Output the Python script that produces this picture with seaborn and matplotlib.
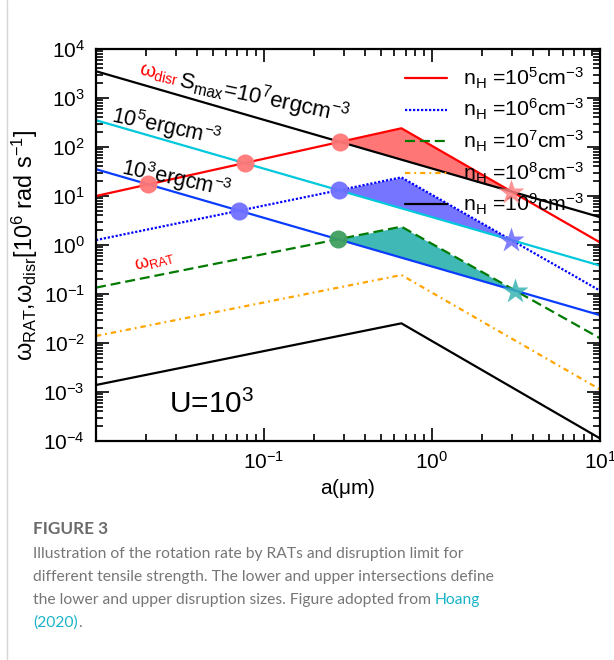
import numpy as np
import matplotlib
matplotlib.use("Agg")
import matplotlib.pyplot as plt
from matplotlib.lines import Line2D
from matplotlib.ticker import LogLocator, NullFormatter
import seaborn as sns

# ---------------- data ----------------
# grain size (um): left edge, RAT transition size, right edge
a_rat = [0.0101, 0.66, 10.0]
w_rat_n5 = [10.0, 241.0, 1.13]
w_rat_n6 = [1.26, 24.0, 0.117]
w_rat_n7 = [0.135, 2.37, 0.0125]
w_rat_n8 = [0.0139, 0.244, 0.00113]
w_rat_n9 = [0.00139, 0.0252, 0.000113]
rat_labels = [r"n$_{\rm H}$ =10$^{5}$cm$^{-3}$",
              r"n$_{\rm H}$ =10$^{6}$cm$^{-3}$",
              r"n$_{\rm H}$ =10$^{7}$cm$^{-3}$",
              r"n$_{\rm H}$ =10$^{8}$cm$^{-3}$",
              r"n$_{\rm H}$ =10$^{9}$cm$^{-3}$"]

# disruption limits for tensile strengths 1e7, 1e5, 1e3 erg cm^-3
a_disr = [0.0101, 10.0]
w_disr_s7 = [3520.0, 3.7]
w_disr_s5 = [352.0, 0.38]
w_disr_s3 = [35.2, 0.037]

x_lim = [0.0101, 10.0]
y_lim = [1e-4, 1e4]

# ---------------- style ----------------
sns.set_theme(style="ticks")
plt.rcParams.update({
    "font.family": ["Liberation Sans", "DejaVu Sans"],
    "mathtext.fontset": "custom",
    "mathtext.rm": "Liberation Sans",
    "mathtext.it": "Liberation Sans:italic",
    "mathtext.bf": "Liberation Sans:bold",
    "mathtext.sf": "Liberation Sans",
    "mathtext.default": "regular",
    "axes.edgecolor": "black",
    "text.color": "black",
    "axes.labelcolor": "black",
    "xtick.color": "black",
    "ytick.color": "black",
})

fig = plt.figure(figsize=(6.14, 6.6), dpi=100)
ax = fig.add_axes([96 / 614, 1 - 441 / 660, 504 / 614, 392 / 660])
ax.set_xscale("log")
ax.set_yscale("log")

LW = 1.6
rat_series = [
    (w_rat_n5, "#ff0000", "-"),
    (w_rat_n6, "#0000ff", (0, (1, 0.8))),
    (w_rat_n7, "#007a00", (0, (4.5, 2.2))),
    (w_rat_n8, "#ffa500", (0, (2.4, 1.8, 0.8, 1.8))),
    (w_rat_n9, "#000000", "-"),
]
disr_series = [
    (w_disr_s7, "#000000"),
    (w_disr_s5, "#00c8dc"),
    (w_disr_s3, "#0a3cff"),
]

for (w, c, ls), lab in zip(rat_series, rat_labels):
    sns.lineplot(x=a_rat, y=w, ax=ax, color=c, linestyle=ls, lw=LW,
                 label=lab, zorder=2, legend=False)
for w, c in disr_series:
    sns.lineplot(x=a_disr, y=w, ax=ax, color=c, lw=LW, zorder=2, legend=False)

# ---------------- intersections and filled disruption zones ----------------
grid = np.logspace(np.log10(x_lim[0]), np.log10(x_lim[1]), 6001)


def logcurve(xs, ys):
    return np.interp(np.log10(grid), np.log10(xs), np.log10(ys))


def crossings(d):
    idx = np.where(np.sign(d[:-1]) != np.sign(d[1:]))[0]
    res = []
    for i in idx:
        t = d[i] / (d[i] - d[i + 1])
        lx = np.log10(grid[i]) + t * (np.log10(grid[i + 1]) - np.log10(grid[i]))
        res.append(lx)
    return res


circle_cols = ["#ff7878", "#7070ff", "#3f9f60"]
fill_cols = ["#ff7676", "#7575ff", "#40b8b5"]
star_cols = ["#ff8080", "#6a6aff", "#3ab3b3"]
pairs = [(0, 0), (1, 1), (2, 2)]  # (rat index, disr index) for filled zones

# circles: lower intersections of each RAT curve with every disruption line
for ri in range(3):
    wr = rat_series[ri][0]
    lr = logcurve(a_rat, wr)
    for w, _ in disr_series:
        ld = logcurve(a_disr, w)
        for lx in crossings(lr - ld):
            if 10 ** lx < a_rat[1]:
                ly = np.interp(lx, np.log10(a_rat), np.log10(wr))
                ax.plot([10 ** lx], [10 ** ly], "o", ms=13, color=circle_cols[ri],
                        mec="none", alpha=0.95, zorder=4)

for k, (ri, di) in enumerate(pairs):
    wr = rat_series[ri][0]
    wd = disr_series[di][0]
    lr = logcurve(a_rat, wr)
    ld = logcurve(a_disr, wd)
    d = lr - ld
    ax.fill_between(grid, 10 ** ld, 10 ** lr, where=d > 0, interpolate=True,
                    color=fill_cols[k], lw=0, zorder=1.5)
    cr = [lx for lx in crossings(d) if 10 ** lx > a_rat[1]]
    for lx in cr:
        ly = np.interp(lx, np.log10(a_rat), np.log10(wr))
        ax.plot([10 ** lx], [10 ** ly], "*", ms=19, color=star_cols[k],
                mec="none", alpha=0.85, zorder=4)

# ---------------- axes ----------------
ax.set_xlim(*x_lim)
ax.set_ylim(*y_lim)
ax.xaxis.set_major_locator(LogLocator(base=10, numticks=20))
ax.yaxis.set_major_locator(LogLocator(base=10, numticks=20))
ax.xaxis.set_minor_locator(LogLocator(base=10, subs=np.arange(2, 10), numticks=100))
ax.yaxis.set_minor_locator(LogLocator(base=10, subs=np.arange(2, 10), numticks=100))
ax.xaxis.set_minor_formatter(NullFormatter())
ax.yaxis.set_minor_formatter(NullFormatter())
ax.tick_params(which="both", direction="in", top=True, right=True, width=1.2,
               labelsize=15)
ax.tick_params(which="major", length=9.5)
ax.tick_params(which="minor", length=5)
ax.tick_params(axis="y", which="major", pad=8)
ax.tick_params(axis="x", which="major", pad=7)
for s in ax.spines.values():
    s.set_linewidth(1.6)
    s.set_visible(True)

ax.set_xlabel(r"a($\mu$m)", fontsize=15, labelpad=3)
ax.set_ylabel(r"$\omega_{\rm RAT}$,$\omega_{\rm disr}$[10$^{6}$ rad s$^{-1}$]",
              fontsize=16.8, labelpad=2)

leg = ax.legend(loc="upper right", bbox_to_anchor=(0.994, 0.99), frameon=False,
                fontsize=15.3, handlelength=2.0, handletextpad=0.75,
                labelspacing=0.3, borderaxespad=0.2)
leg.set_zorder(3)

# ---------------- annotations ----------------
ax.text(0.0179, 2940, r"$\omega_{\rm disr}$", color="#ff0000", fontsize=14.5,
        rotation=-12, rotation_mode="anchor", ha="left", va="baseline")
ax.text(0.0309, 1740, r"S$_{\rm max}$=10$^{7}$ergcm$^{-3}$", color="black",
        fontsize=16, rotation=-12, rotation_mode="anchor", ha="left", va="baseline")
ax.text(0.01236, 324, r"10$^{5}$ergcm$^{-3}$", fontsize=15.5, rotation=-12,
        rotation_mode="anchor", ha="left", va="baseline")
ax.text(0.01416, 28.1, r"10$^{3}$ergcm$^{-3}$", fontsize=15.5, rotation=-12,
        rotation_mode="anchor", ha="left", va="baseline")
ax.text(0.0174, 0.31, r"$\omega_{\rm RAT}$", color="#ff0000", fontsize=13,
        rotation=15, rotation_mode="anchor", ha="left", va="baseline")
ax.text(0.0273, 3.7e-4, r"U=10$^{3}$", fontsize=21.5, ha="left", va="baseline")

# ---------------- caption ----------------
fig.add_artist(Line2D([7 / 614, 7 / 614], [0, 1], color="#d6d6d6", lw=1.0,
                      transform=fig.transFigure))
cap_font = ["Lato", "DejaVu Sans"]
gray = "#767676"
teal = "#1ab3c8"
x0 = 33 / 614
CAP = 11.25
fig.text(x0, 1 - 534 / 660, "FIGURE 3", fontsize=12.3, fontweight="bold",
         color="#6b6b6b", family=cap_font)
lines = ["Illustration of the rotation rate by RATs and disruption limit for",
         "different tensile strength. The lower and upper intersections define",
         "the lower and upper disruption sizes. Figure adopted from "]
ys = [558, 581, 604]
for t, y in zip(lines, ys):
    fig.text(x0, 1 - y / 660, t, fontsize=CAP, color=gray, family=cap_font)
fig.canvas.draw()
r = fig.canvas.get_renderer()
last = fig.texts[-1]
bb = last.get_window_extent(r)
fig.text(bb.x1 / fig.bbox.width, 1 - 604 / 660, "Hoang", fontsize=CAP, color=teal,
         family=cap_font)
t2 = fig.text(x0, 1 - 627 / 660, "(2020)", fontsize=CAP, color=teal, family=cap_font)
fig.canvas.draw()
bb2 = t2.get_window_extent(r)
fig.text(bb2.x1 / fig.bbox.width, 1 - 627 / 660, ".", fontsize=CAP, color=gray,
         family=cap_font)

fig.savefig("out.png", dpi=100)
